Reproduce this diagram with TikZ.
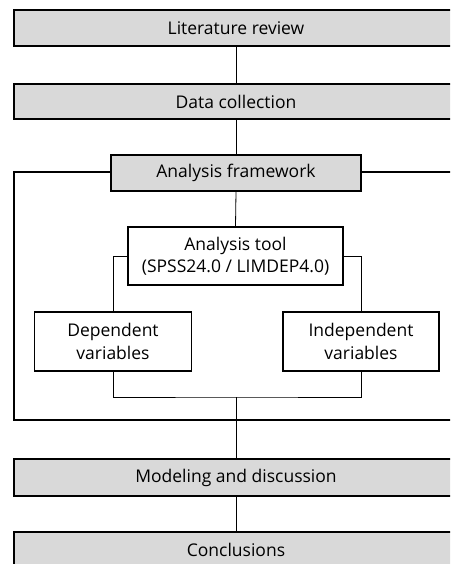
\documentclass[tikz,border=0pt]{standalone}
\usepackage{fontspec}
\setmainfont{Open Sans}
\usetikzlibrary{positioning}
\definecolor{boxgray}{HTML}{D9D9D9}
\tikzset{
  box/.style={draw, line width=1.3pt, fill=boxgray, align=center, inner sep=2pt,
              minimum height=36pt, font=\fontsize{17.5}{22.5}\selectfont},
  widebox/.style={box, minimum width=444pt},
  whitebox/.style={box, fill=white},
  frm/.style={line width=1.3pt},
  conn/.style={line width=0.8pt},
}

\begin{document}
\begin{tikzpicture}[x=1pt, y=1pt]
        \useasboundingbox (0,0) rectangle (450,-564);
        \clip (0,0) rectangle (450,-564);
        % outer frame round the analysis part
        \draw[frm] (14,-172) rectangle (458,-420);
        \node[widebox] (lit) at (236,-28) {Literature review};
        \node[widebox, minimum height=35pt] (data) at (236,-101.5) {Data collection};
        \node[box, minimum width=250pt] (fw) at (236,-173) {Analysis framework};
        \node[whitebox, minimum width=215pt, minimum height=58pt] (tool) at (235.5,-256) {Analysis tool\\(SPSS24.0 / LIMDEP4.0)};
        \node[whitebox, minimum width=157pt, minimum height=59pt] (dep) at (113,-341.5) {Dependent\\variables};
        \node[whitebox, minimum width=156pt, minimum height=59pt] (indep) at (361,-341.5) {Independent\\variables};
        \node[widebox, minimum height=37pt] (model) at (236,-477.5) {Modeling and discussion};
        \node[widebox] (concl) at (236,-550) {Conclusions};
        \coordinate (join) at (236,-397);
        \draw[conn] (lit.south) -- (data.north);
        \draw[conn] (data.south) -- (fw.north);
        \draw[conn] (fw.south) -- (tool.north);
        \draw[conn] (tool.west) -| (dep.north); \draw[conn] (tool.east) -| (indep.north);
        \draw[conn] (dep.south) |- (join) -| (indep.south);
        \draw[conn] (join) -- (model.north);
        \draw[conn] (model.south) -- (concl.north);
      \end{tikzpicture}
\end{document}
